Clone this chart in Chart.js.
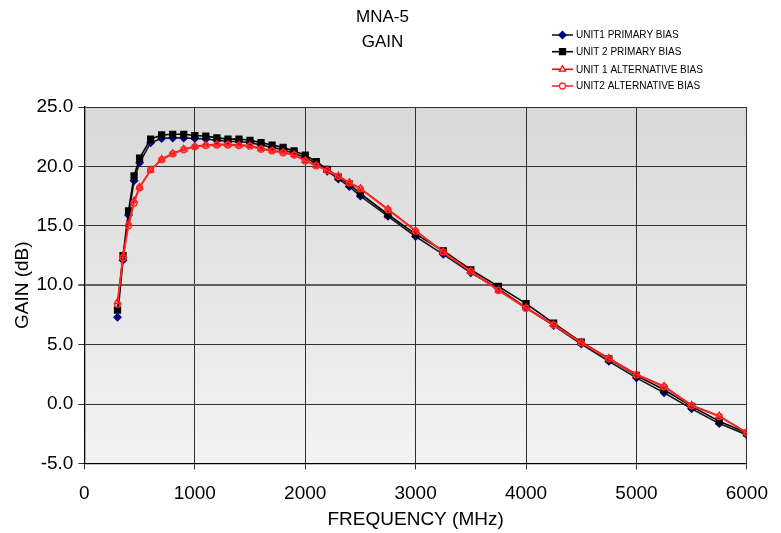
<!DOCTYPE html>
<html>
<head>
<meta charset="utf-8">
<script src="https://cdn.jsdelivr.net/npm/chart.js@4.4.1/dist/chart.umd.min.js"></script>
<style>
  html, body { margin: 0; padding: 0; background: #ffffff; }
  #wrap { width: 781px; height: 533px; }
</style>
</head>
<body>
<div id="wrap"><canvas id="c" width="781" height="533"></canvas></div>
<script>
const titleLines = ['MNA-5', 'GAIN'];
const xAxisTitle = 'FREQUENCY (MHz)';
const yAxisTitle = 'GAIN (dB)';
const seriesNames = ['UNIT1 PRIMARY BIAS', 'UNIT 2 PRIMARY BIAS', 'UNIT 1 ALTERNATIVE BIAS', 'UNIT2 ALTERNATIVE BIAS'];

const freq = [300,350,400,450,500,600,700,800,900,1000,1100,1200,1300,1400,1500,1600,1700,1800,1900,2000,
  2100,2200,2300,2400,2500,2750,3000,3250,3500,3750,4000,4250,4500,4750,5000,5250,5500,5750,6000];

const unit1Primary = [7.3,12.1,15.9,18.8,20.3,22.0,22.35,22.4,22.4,22.35,22.3,22.2,22.1,22.1,22.0,21.8,21.6,21.4,21.1,20.75,
  20.25,19.6,18.95,18.3,17.5,15.8,14.1,12.6,11.05,9.7,8.1,6.6,5.05,3.6,2.2,0.95,-0.4,-1.65,-2.6];
const unit2Primary = [7.9,12.5,16.25,19.2,20.7,22.3,22.65,22.7,22.7,22.6,22.55,22.4,22.3,22.3,22.2,22.0,21.8,21.6,21.3,20.95,
  20.4,19.75,19.1,18.5,17.7,15.95,14.3,12.9,11.3,9.9,8.45,6.8,5.2,3.8,2.4,1.2,-0.2,-1.45,-2.45];
const unit1Alt = [8.6,12.5,15.2,17.1,18.25,19.7,20.6,21.1,21.45,21.7,21.8,21.85,21.85,21.8,21.75,21.5,21.35,21.2,21.0,20.5,
  20.1,19.7,19.2,18.65,18.15,16.4,14.6,12.8,11.2,9.6,8.1,6.7,5.2,3.85,2.5,1.5,-0.1,-1.0,-2.4];
const unit2Alt = [8.4,12.3,15.0,16.9,18.2,19.7,20.55,21.05,21.4,21.65,21.75,21.8,21.8,21.75,21.7,21.45,21.3,21.15,20.95,20.45,
  20.05,19.65,19.15,18.6,18.1,16.35,14.55,12.8,11.15,9.55,8.05,6.65,5.15,3.8,2.45,1.45,-0.15,-1.05,-2.45];

const xTicks = [0,1000,2000,3000,4000,5000,6000];
const yTicks = [-5,0,5,10,15,20,25];

const FONT = "'Liberation Sans', Arial, Helvetica, sans-serif";

function pts(ys) { return freq.map((f, i) => ({ x: f, y: ys[i] })); }

const styles = [
  { line: '#1a1a1a', point: '#000080', fill: '#000080', style: 'rectRot', radius: 3.6, order: 4 },
  { line: '#000000', point: '#000000', fill: '#000000', style: 'rect', radius: 4.2, order: 3 },
  { line: '#ff0000', point: '#ff0000', fill: 'rgba(0,0,0,0)', style: 'triangle', radius: 3.6, order: 2 },
  { line: '#ff2a2a', point: '#ff2a2a', fill: 'rgba(0,0,0,0)', style: 'circle', radius: 3.0, order: 1 }
];
const seriesData = [unit1Primary, unit2Primary, unit1Alt, unit2Alt];

const datasets = seriesData.map((d, i) => ({
  label: seriesNames[i],
  data: pts(d),
  borderColor: styles[i].line,
  borderWidth: 1.6,
  pointStyle: styles[i].style,
  pointRadius: styles[i].radius,
  pointBackgroundColor: styles[i].fill,
  pointBorderColor: styles[i].point,
  pointBorderWidth: 1.3,
  tension: 0,
  fill: false,
  order: styles[i].order
}));

const bgPlugin = {
  id: 'plotBg',
  beforeDraw(chart) {
    const { ctx, chartArea: a } = chart;
    const g = ctx.createLinearGradient(0, a.top, 0, a.bottom);
    g.addColorStop(0, 'rgb(216,216,216)');
    g.addColorStop(1, 'rgb(243,243,243)');
    ctx.save();
    ctx.fillStyle = g;
    ctx.fillRect(a.left, a.top, a.right - a.left, a.bottom - a.top);
    ctx.restore();
  }
};

function drawMarker(ctx, s, x, y) {
  ctx.save();
  ctx.lineWidth = 1.3;
  ctx.strokeStyle = s.point;
  ctx.fillStyle = s.fill;
  const r = s.radius;
  ctx.beginPath();
  if (s.style === 'rectRot') {
    ctx.moveTo(x, y - r); ctx.lineTo(x + r, y); ctx.lineTo(x, y + r); ctx.lineTo(x - r, y); ctx.closePath();
    ctx.fill(); ctx.stroke();
  } else if (s.style === 'rect') {
    const h = r * Math.SQRT1_2;
    ctx.rect(x - h, y - h, 2 * h, 2 * h); ctx.fill(); ctx.stroke();
  } else if (s.style === 'triangle') {
    ctx.moveTo(x, y - r); ctx.lineTo(x + r * 0.866, y + r * 0.5); ctx.lineTo(x - r * 0.866, y + r * 0.5); ctx.closePath();
    ctx.fillStyle = '#ffffff'; ctx.fill(); ctx.stroke();
  } else {
    ctx.arc(x, y, r, 0, Math.PI * 2);
    ctx.fillStyle = '#ffffff'; ctx.fill(); ctx.stroke();
  }
  ctx.restore();
}

const legendPlugin = {
  id: 'cornerLegend',
  afterDraw(chart) {
    const ctx = chart.ctx;
    const rows = [35, 51.7, 69.3, 86];
    ctx.save();
    ctx.font = '10px ' + FONT;
    ctx.textBaseline = 'middle';
    ctx.textAlign = 'left';
    chart.data.datasets.forEach((ds, i) => {
      const y = rows[i];
      ctx.strokeStyle = styles[i].line;
      ctx.lineWidth = 1.6;
      ctx.beginPath(); ctx.moveTo(552, y); ctx.lineTo(573, y); ctx.stroke();
      drawMarker(ctx, styles[i], 562.5, y);
      ctx.fillStyle = '#000000';
      ctx.fillText(ds.label, 576, y + 0.5);
    });
    ctx.restore();
  }
};

new Chart(document.getElementById('c'), {
  type: 'line',
  data: { datasets },
  plugins: [bgPlugin, legendPlugin],
  options: {
    responsive: false,
    animation: false,
    layout: { padding: { left: 0, right: 16, top: 0, bottom: 0 } },
    plugins: {
      legend: { display: false },
      tooltip: { enabled: false },
      title: {
        display: true,
        text: titleLines,
        color: '#000000',
        font: { family: FONT, size: 17, weight: 'normal', lineHeight: 25 / 17 },
        padding: { top: 5, bottom: 52 }
      }
    },
    scales: {
      x: {
        type: 'linear',
        min: 0, max: 6000,
        afterBuildTicks: (axis) => { axis.ticks = xTicks.map(v => ({ value: v })); },
        ticks: { color: '#000000', font: { family: FONT, size: 19 }, padding: 13, maxRotation: 0, callback: (v) => String(v) },
        grid: { color: '#303030', lineWidth: 1, tickLength: 6, drawTicks: true },
        border: { color: '#000000', width: 1.3 },
        title: { display: true, text: xAxisTitle, color: '#000000', font: { family: FONT, size: 19 }, padding: { top: -10, bottom: 2 } }
      },
      y: {
        type: 'linear',
        min: -5, max: 25,
        afterBuildTicks: (axis) => { axis.ticks = yTicks.map(v => ({ value: v })); },
        ticks: { color: '#000000', font: { family: FONT, size: 19 }, padding: 5, callback: (v) => Number(v).toFixed(1) },
        grid: {
          color: (c) => (c.tick && c.tick.value === 10 ? '#606060' : '#303030'),
          lineWidth: (c) => (c.tick && c.tick.value === 10 ? 2 : 1),
          tickLength: 6, drawTicks: true
        },
        border: { color: '#000000', width: 1.3 },
        title: { display: true, text: yAxisTitle, color: '#000000', font: { family: FONT, size: 19 }, padding: { top: 11, bottom: -2.4 } }
      }
    }
  }
});
</script>
</body>
</html>
